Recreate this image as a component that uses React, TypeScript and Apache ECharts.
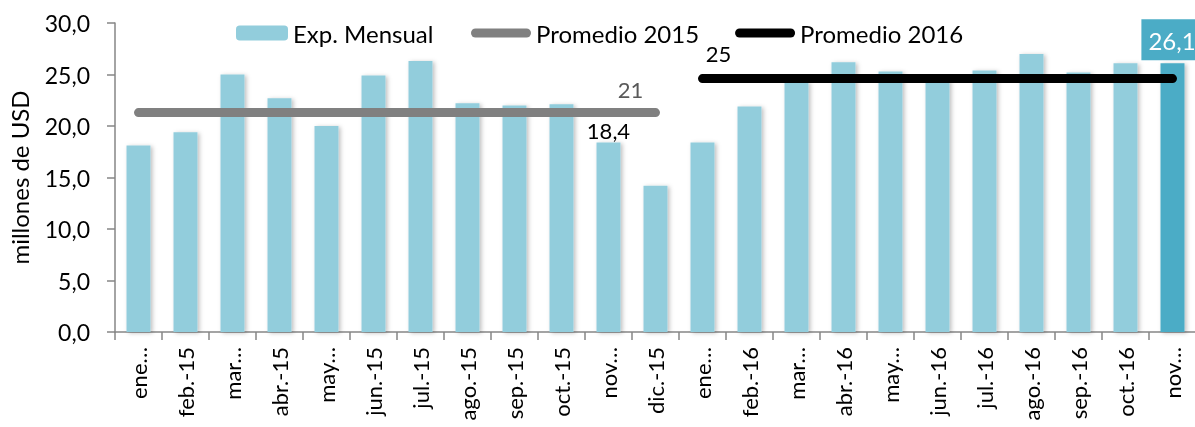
import React, { useEffect, useRef } from "react";
import * as echarts from "echarts";

const months = [
  "ene.-15", "feb.-15", "mar.-15", "abr.-15", "may.-15", "jun.-15", "jul.-15", "ago.-15",
  "sep.-15", "oct.-15", "nov.-15", "dic.-15", "ene.-16", "feb.-16", "mar.-16", "abr.-16",
  "may.-16", "jun.-16", "jul.-16", "ago.-16", "sep.-16", "oct.-16", "nov.-16",
];
const tickLabels = [
  "ene…", "feb.-15", "mar…", "abr.-15", "may…", "jun.-15", "jul.-15", "ago.-15",
  "sep.-15", "oct.-15", "nov…", "dic.-15", "ene…", "feb.-16", "mar…", "abr.-16",
  "may…", "jun.-16", "jul.-16", "ago.-16", "sep.-16", "oct.-16", "nov…",
];
const expMensual = [
  18.1, 19.4, 25.0, 22.7, 20.0, 24.9, 26.3, 22.2, 22.0, 22.1, 18.4, 14.2,
  18.4, 21.9, 24.3, 26.2, 25.3, 24.5, 25.4, 27.0, 25.2, 26.1, 26.1,
];
const promedio2015 = 21.3;
const promedio2016 = 24.6;
const promedio2015Label = "21";
const promedio2016Label = "25";
const yTicks = [0, 5, 10, 15, 20, 25, 30];

const FONT = "Lato, 'Open Sans', sans-serif";

export default function App() {
  const ref = useRef<HTMLDivElement>(null);
  useEffect(() => {
    if (!ref.current) return;
    document.body.style.overflow = "hidden";
    document.body.style.margin = "0";
    const chart = echarts.init(ref.current, undefined, { renderer: "svg" });
    const n = months.length;
    const barData = expMensual.map((v, i) => {
      if (i === 10) {
        return {
          value: v,
          label: {
            show: true,
            position: "top",
            distance: 1,
            formatter: (p: any) => p.value.toFixed(1).replace(".", ","),
            color: "#000",
            fontSize: 22,
            fontFamily: FONT,
          },
        };
      }
      if (i === n - 1) {
        return {
          value: v,
          itemStyle: { color: "#4BACC6" },
          label: {
            show: true,
            position: "top",
            distance: 3,
            offset: [-3, 0],
            formatter: (p: any) => p.value.toFixed(1).replace(".", ","),
            color: "#fff",
            backgroundColor: "#4BACC6",
            padding: [9, 2, 8, 7],
            fontSize: 24,
            fontFamily: FONT,
          },
        };
      }
      return v;
    });
    const line2015 = months.map((_, i) =>
      i < 12
        ? i === 11
          ? {
              value: promedio2015,
              label: {
                show: true,
                position: "top",
                distance: 0,
                offset: [-25, -12],
                formatter: promedio2015Label,
                color: "#595959",
                fontSize: 22,
                fontFamily: FONT,
              },
            }
          : promedio2015
        : "-"
    );
    const line2016 = months.map((_, i) =>
      i >= 12
        ? i === 12
          ? {
              value: promedio2016,
              label: {
                show: true,
                position: "top",
                distance: 0,
                offset: [16, -14],
                formatter: promedio2016Label,
                color: "#000",
                fontSize: 22,
                fontFamily: FONT,
              },
            }
          : promedio2016
        : "-"
    );
    const roundIcon =
      "path://M4.5,0 L55.5,0 A4.5,4.5 0 0 1 55.5,9 L4.5,9 A4.5,4.5 0 0 1 4.5,0 Z";
    chart.setOption({
      animation: false,
      textStyle: { fontFamily: FONT },
      legend: [
        {
          data: ["Exp. Mensual"],
          left: 236,
          top: 21,
          padding: 0,
          itemWidth: 52,
          itemHeight: 15,
          itemGap: 6,
          textStyle: { fontSize: 24, color: "#000", fontFamily: FONT },
          selectedMode: false,
        },
        {
          data: [
            { name: "Promedio 2015", icon: roundIcon },
            { name: "Promedio 2016", icon: roundIcon },
          ],
          left: 471,
          top: 21,
          padding: 0,
          itemWidth: 60,
          itemHeight: 9,
          itemGap: 36,
          textStyle: { fontSize: 24, color: "#000", fontFamily: FONT },
          selectedMode: false,
        },
      ],
      grid: {
        left: 115,
        top: 23,
        width: 1081,
        height: 309,
        containLabel: false,
        outerBoundsMode: "none",
      },
      xAxis: {
        type: "category",
        data: months,
        boundaryGap: true,
        axisLine: { lineStyle: { color: "#868686", width: 1.5 } },
        axisTick: { show: true, length: 8, interval: 0, lineStyle: { color: "#868686", width: 1.5 } },
        axisLabel: {
          interval: 0,
          rotate: 90,
          margin: 15,
          fontSize: 22,
          color: "#000",
          fontFamily: FONT,
          formatter: (_v: string, i: number) => tickLabels[i],
        },
      },
      yAxis: {
        type: "value",
        min: yTicks[0],
        max: yTicks[yTicks.length - 1],
        interval: 5,
        name: "millones de USD",
        nameLocation: "middle",
        nameRotate: 90,
        nameGap: 84,
        nameTextStyle: { fontSize: 24, color: "#000", fontFamily: FONT },
        splitLine: { show: false },
        axisLine: { show: true, lineStyle: { color: "#868686", width: 1.5 } },
        axisTick: { show: true, length: 8, lineStyle: { color: "#868686", width: 1.5 } },
        axisLabel: {
          margin: 25,
          fontSize: 23,
          color: "#000",
          fontFamily: FONT,
          formatter: (v: number) => v.toFixed(1).replace(".", ","),
        },
      },
      series: [
        {
          name: "Exp. Mensual",
          type: "bar",
          data: barData,
          barCategoryGap: "49%",
          itemStyle: {
            color: "#92CDDC",
            shadowBlur: 4,
            shadowColor: "rgba(0,0,0,0.25)",
            shadowOffsetX: 2,
            shadowOffsetY: 1,
          },
        },
        {
          name: "Promedio 2015",
          type: "line",
          data: line2015,
          symbol: "circle",
          symbolSize: 1,
          showSymbol: true,
          color: "#808080",
          itemStyle: { color: "#808080" },
          lineStyle: { color: "#808080", width: 9, cap: "round" },
          connectNulls: false,
        },
        {
          name: "Promedio 2016",
          type: "line",
          data: line2016,
          symbol: "circle",
          symbolSize: 1,
          showSymbol: true,
          color: "#000000",
          itemStyle: { color: "#000000" },
          lineStyle: { color: "#000000", width: 9, cap: "round" },
          connectNulls: false,
        },
      ],
    });
    return () => chart.dispose();
  }, []);
  return (
    <div
      style={{
        position: "fixed",
        left: 0,
        top: 0,
        width: 1195,
        height: 427,
        overflow: "hidden",
      }}
    >
      <div ref={ref} style={{ width: 1195, height: 427 }} />
    </div>
  );
}
